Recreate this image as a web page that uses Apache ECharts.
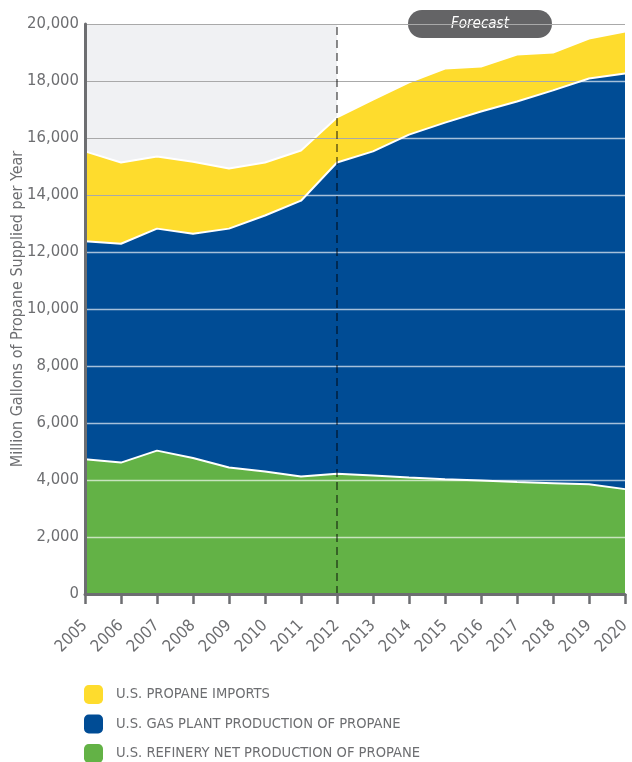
<!DOCTYPE html>
<html>
<head>
<meta charset="utf-8">
<script src="https://cdn.jsdelivr.net/npm/echarts@6/dist/echarts.min.js"></script>
<style>
  html, body { margin: 0; padding: 0; background: #fff; }
  #chart { width: 632px; height: 762px; }
</style>
</head>
<body>
<div id="chart"></div>
<script>
// 年份
var years = ['2005', '2006', '2007', '2008', '2009', '2010', '2011', '2012',
  '2013', '2014', '2015', '2016', '2017', '2018', '2019', '2020']
// million gallons, stacked bottom to top
var refinery = [4730, 4610, 5030, 4770, 4440, 4300, 4120, 4220, 4160, 4090, 4030, 3980, 3930, 3890, 3850, 3680]
var gasPlant = [7650, 7680, 7790, 7870, 8380, 8980, 9680, 10920, 11370, 12030, 12510, 12950, 13350, 13780, 14240, 14580]
var imports = [3150, 2850, 2530, 2530, 2110, 1860, 1760, 1580, 1820, 1830, 1900, 1580, 1650, 1330, 1400, 1480]
var yTicks = [0, 2000, 4000, 6000, 8000, 10000, 12000, 14000, 16000, 18000, 20000]
var forecastStart = '2012'

var names = {
  imports: 'U.S. PROPANE IMPORTS',
  gas: 'U.S. GAS PLANT PRODUCTION OF PROPANE',
  refinery: 'U.S. REFINERY NET PRODUCTION OF PROPANE'
}
var colors = { imports: '#fedc2d', gas: '#004c95', refinery: '#63b246' }
var textGray = '#6d6e71'
var font = '"DejaVu Sans Condensed", "Liberation Sans Narrow", sans-serif'

var chart = echarts.init(document.getElementById('chart'))

// light grid lines, only inside the blue/green area
function renderInnerGrid(params, api) {
  var pts = []
  for (var i = 0; i < years.length; i++) {
    pts.push(api.coord([i, refinery[i] + gasPlant[i]]))
  }
  pts.push(api.coord([years.length - 1, 0]))
  pts.push(api.coord([0, 0]))
  var lines = []
  for (var k = 1; k < yTicks.length - 1; k++) {
    var a = api.coord([0, yTicks[k]])
    var b = api.coord([years.length - 1, yTicks[k]])
    lines.push({
      type: 'line',
      shape: { x1: a[0], y1: Math.round(a[1]) + 0.5, x2: b[0], y2: Math.round(b[1]) + 0.5 },
      style: { stroke: 'rgba(255,255,255,0.65)', lineWidth: 1.5 }
    })
  }
  return {
    type: 'group',
    children: lines,
    clipPath: { type: 'polygon', shape: { points: pts } }
  }
}

var areaLine = { color: '#fff', width: 2 }

var option = {
  animation: false,
  textStyle: { fontFamily: font },
  grid: { left: 85, right: 7, top: 24, bottom: 168, outerBoundsMode: 'none' },
  legend: {
    orient: 'vertical',
    left: 84,
    top: 685,
    height: 110,
    padding: 0,
    itemWidth: 19,
    itemHeight: 19,
    itemGap: 10.5,
    icon: 'roundRect',
    data: [names.imports, names.gas, names.refinery],
    textStyle: { color: textGray, fontSize: 14.6, fontFamily: font, padding: [0, 0, 0, 8] }
  },
  xAxis: {
    type: 'category',
    data: years,
    boundaryGap: false,
    z: 6,
    axisLine: { lineStyle: { color: textGray, width: 3 } },
    axisTick: { show: true, length: 10, lineStyle: { color: textGray, width: 2.5 } },
    axisLabel: { rotate: 45, color: textGray, fontSize: 16.5, margin: 29, fontFamily: font },
    splitLine: { show: false }
  },
  yAxis: [
    {
      type: 'value',
      min: 0, max: 20000, interval: 2000,
      z: 1.5,
      axisLine: { show: false },
      axisTick: { show: false },
      axisLabel: { show: false },
      splitLine: { lineStyle: { color: '#a9a9a9', width: 1 } }
    },
    {
      type: 'value',
      min: 0, max: 20000, interval: 2000,
      z: 6,
      position: 'left',
      name: 'Million Gallons of Propane Supplied per Year',
      nameLocation: 'middle',
      nameGap: 59,
      nameMoveOverlap: false,
      nameTextStyle: { color: textGray, fontSize: 16, fontFamily: font },
      axisLine: { show: true, lineStyle: { color: textGray, width: 3 } },
      axisTick: { show: false },
      axisLabel: {
        color: textGray, fontSize: 16.5, margin: 6, fontFamily: font,
        formatter: function (v) { return v.toLocaleString('en-US') }
      },
      splitLine: { show: false }
    }
  ],
  graphic: [{
    type: 'group',
    left: 408,
    top: 10,
    children: [
      { type: 'rect', shape: { x: 0, y: 0, width: 144, height: 28, r: 14 }, style: { fill: '#646466' } },
      {
        type: 'text', x: 72, y: 14,
        style: {
          text: 'Forecast', fill: '#fff', fontSize: 15, fontStyle: 'italic',
          fontFamily: font, align: 'center', verticalAlign: 'middle'
        }
      }
    ]
  }],
  series: [
    {
      // historical period background
      type: 'line',
      data: [],
      z: 0,
      silent: true,
      markArea: {
        silent: true,
        itemStyle: { color: '#f0f1f3' },
        data: [[{ xAxis: years[0] }, { xAxis: forecastStart }]]
      }
    },
    {
      name: names.refinery,
      type: 'line',
      stack: 'supply',
      z: 2,
      data: refinery,
      showSymbol: false,
      lineStyle: areaLine,
      itemStyle: { color: colors.refinery },
      areaStyle: { color: colors.refinery, opacity: 1 }
    },
    {
      name: names.gas,
      type: 'line',
      stack: 'supply',
      z: 2,
      data: gasPlant,
      showSymbol: false,
      lineStyle: areaLine,
      itemStyle: { color: colors.gas },
      areaStyle: { color: colors.gas, opacity: 1 }
    },
    {
      name: names.imports,
      type: 'line',
      stack: 'supply',
      z: 1,
      data: imports,
      showSymbol: false,
      lineStyle: areaLine,
      itemStyle: { color: colors.imports },
      areaStyle: { color: colors.imports, opacity: 1 }
    },
    {
      type: 'custom',
      z: 3,
      silent: true,
      data: [0],
      renderItem: renderInnerGrid
    },
    {
      // forecast divider
      type: 'line',
      data: [],
      z: 5,
      silent: true,
      markLine: {
        silent: true,
        symbol: 'none',
        label: { show: false },
        lineStyle: { color: 'rgba(0,0,0,0.45)', width: 2, type: [8, 5] },
        data: [{ xAxis: forecastStart }]
      }
    }
  ]
}

chart.setOption(option)
</script>
</body>
</html>
